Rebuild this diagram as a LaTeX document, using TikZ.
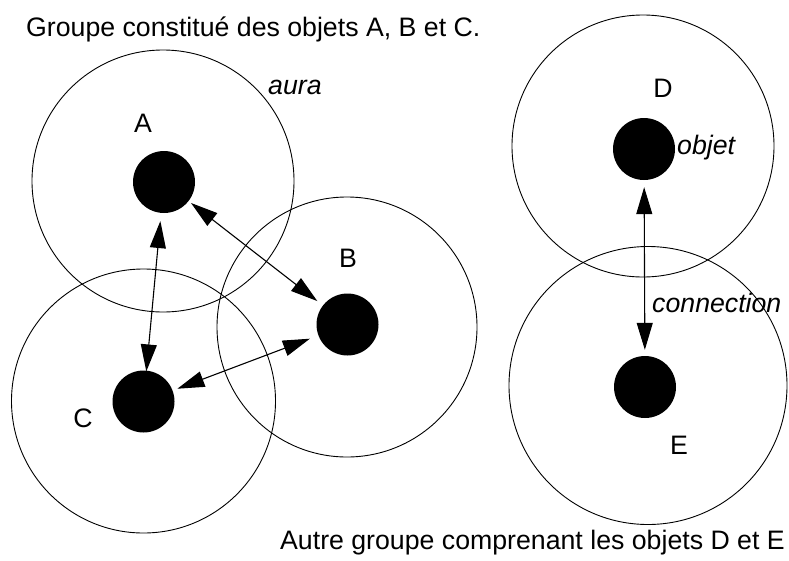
\documentclass[tikz,border=0pt]{standalone}
\usepackage{fontspec}
\setmainfont{Liberation Sans}
\usetikzlibrary{arrows.meta}
\begin{document}
\begin{tikzpicture}[x=1pt,y=-1pt,
  auracirc/.style={circle,draw=black,line width=0.9pt,inner sep=0pt,minimum size=#1},
  objdot/.style={circle,fill=black,inner sep=0pt,minimum size=62pt},
  conn/.style={line width=1.1pt,{Triangle[length=27pt,width=16pt]}-{Triangle[length=27pt,width=16pt]}},
  lbl/.style={inner sep=0pt,font=\fontsize{26.7}{32}\selectfont},
  ital/.style={inner sep=0pt,anchor=base west,font=\fontsize{26.7}{32}\selectfont\itshape}]
\useasboundingbox (0,0) rectangle (789,560);
% auras
\node[auracirc=262pt] (auraA) at (163,181) {};
\node[auracirc=260pt] (auraB) at (347,327) {};
\node[auracirc=264pt] (auraC) at (143.5,401) {};
\node[auracirc=262pt] (auraD) at (643,146) {};
\node[auracirc=278pt] (auraE) at (648,385.5) {};
% objects
\node[objdot] (A) at (164,182) {};
\node[objdot] (B) at (347.5,324.5) {};
\node[objdot] (C) at (143.5,401.5) {};
\node[objdot] (D) at (644,149) {};
\node[objdot] (E) at (645,387) {};
% connections
\draw[conn,shorten <=8pt,shorten >=-1pt] (A) -- (C);
\draw[conn,shorten <=3pt,shorten >=7pt] (A) -- (B);
\draw[conn,shorten <=9pt,shorten >=5pt] (B) -- (C);
\draw[conn,shorten <=7pt,shorten >=6pt] (D) -- (E);
% labels
\node[lbl] (lA) at (143,123) {A};
\node[lbl] (lB) at (348,258) {B};
\node[lbl] (lC) at (83,418) {C};
\node[lbl] (lD) at (663,88) {D};
\node[lbl] (lE) at (679,445) {E};
\node[ital] (aura) at (268,94) {aura};
\node[ital] (objet) at (677,154) {objet};
\node[ital] (connection) at (652,312) {connection};
\node[lbl,anchor=base west] (title) at (26,36) {Groupe constitué des objets A, B et C.};
\node[lbl,anchor=base east] (title2) at (785,549) {Autre groupe comprenant les objets D et E};
\end{tikzpicture}
\end{document}
